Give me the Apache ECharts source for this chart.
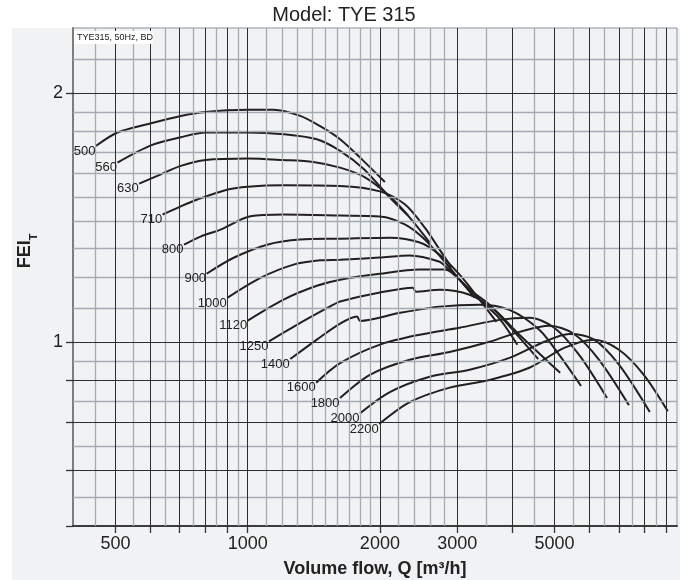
<!DOCTYPE html>
<html><head><meta charset="utf-8">
<script src="https://cdn.jsdelivr.net/npm/echarts@6/dist/echarts.min.js"></script>
<style>html,body{margin:0;padding:0;background:#fff}#c{width:680px;height:580px}</style>
</head><body><div id="c"></div>
<script>
// Speeds (curve labels)
const speeds = ['500','560','630','710','800','900','1000','1120','1250','1400','1600','1800','2000','2200'];
// Volume flow Q [m3/h] and FEI_T for each curve
const q500 = [451,505,602,704,802,1000,1145,1317,1462,1623,1820,2053];
const f500 = [1.728,1.794,1.841,1.879,1.900,1.911,1.911,1.879,1.826,1.761,1.665,1.563];
const q560 = [505,602,704,802,1000,1207,1437,1623,1840,2107,2318];
const f560 = [1.650,1.731,1.771,1.794,1.794,1.786,1.761,1.705,1.620,1.497,1.424];
const q630 = [566,634,704,802,1000,1205,1410,1623,1850,2107,2339,2597];
const f630 = [1.556,1.597,1.635,1.662,1.669,1.662,1.653,1.627,1.584,1.502,1.416,1.321];
const q710 = [640,704,768,901,1000,1205,1623,2000,2279,2531,2736,2913];
const f710 = [1.428,1.461,1.489,1.531,1.543,1.549,1.546,1.523,1.469,1.377,1.295,1.232];
const q800 = [716,781,867,1014,1207,1623,2000,2279,2531,2809,3038,3285];
const f800 = [1.313,1.343,1.369,1.421,1.428,1.424,1.420,1.389,1.332,1.252,1.191,1.133];
const q900 = [806,929,1107,1317,1623,2107,2465,2736,3038,3373,3686];
const f900 = [1.211,1.266,1.313,1.332,1.335,1.339,1.321,1.277,1.208,1.127,1.059];
const q1000 = [898,1069,1272,1462,1623,2000,2339,2736,2838,3038,3373,3744,4113];
const f1000 = [1.132,1.197,1.242,1.257,1.259,1.267,1.274,1.252,1.232,1.191,1.127,1.069,0.994];
const q1120 = [1000,1207,1437,1623,2000,2465,2809,3201,3553,4049,4588];
const f1120 = [1.063,1.127,1.171,1.191,1.211,1.225,1.225,1.158,1.111,1.030,0.955];
const q1250 = [1118,1317,1567,1623,2000,2377,2414,2736,3201,3647,4157,5148];
const f1250 = [1.003,1.056,1.111,1.121,1.149,1.165,1.152,1.158,1.142,1.095,1.022,0.919];
const q1400 = [1250,1437,1623,1774,1802,2220,2736,3373,3945,4614,5122,5744];
const f1400 = [0.955,1.008,1.054,1.075,1.062,1.086,1.105,1.111,1.095,1.036,0.966,0.886];
const q1600 = [1432,1623,2000,2465,3038,3744,4380,4989,5686,6581];
const f1600 = [0.894,0.944,0.994,1.022,1.042,1.065,1.071,1.042,0.966,0.857];
const q1800 = [1623,1898,2339,2883,3553,4157,4862,5538,6312,7383];
const f1800 = [0.857,0.914,0.953,0.974,1.002,1.030,1.048,1.024,0.953,0.840];
const q2000 = [1802,2107,2597,3201,3945,4737,5397,6150,7007,8236];
const f2000 = [0.821,0.871,0.909,0.927,0.958,1.002,1.024,1.008,0.940,0.824];
const q2200 = [1993,2339,2883,3553,4380,5257,6150,7007,7981,9051];
const f2200 = [0.797,0.847,0.882,0.901,0.932,0.985,1.008,0.980,0.914,0.826];

// Axis ticks, labels and grid lines
const xTicks = [500,600,700,800,900,1000,2000,3000,4000,5000,6000,7000,8000,9000];
const xLabels = [500,1000,2000,3000,5000];
const xMinor = [450,550,650,750,850,950,1100,1200,1300,1400,1500,1600,1700,1800,1900,2200,2400,2600,2800,3500,4500,5500,6500,7500,8500];
const yTicks = [0.6,0.7,0.8,0.9,1,2];
const yLabels = [1,2];
const yMajor = [0.7,0.8,0.9,1,2];
const yMinor = [0.65,0.75,0.85,0.95,1.1,1.2,1.3,1.4,1.5,1.6,1.7,1.8,1.9,2.2];

const curvesQ = [q500,q560,q630,q710,q800,q900,q1000,q1120,q1250,q1400,q1600,q1800,q2000,q2200];
const curvesF = [f500,f560,f630,f710,f800,f900,f1000,f1120,f1250,f1400,f1600,f1800,f2000,f2200];

const FONT = 'Liberation Sans, Arial, Helvetica, sans-serif';
const chart = echarts.init(document.getElementById('c'), null, {renderer:'canvas'});

const DARK = '#2e2e2e', LIGHT = '#a4abb3';
const gridLines = [].concat(
  xMinor.map(v => ({xAxis: v, lineStyle:{color:LIGHT, width:1.3}})),
  yMinor.map(v => ({yAxis: v, lineStyle:{color:LIGHT, width:1.3}})),
  xTicks.map(v => ({xAxis: v, lineStyle:{color:DARK, width:1}})),
  yMajor.map(v => ({yAxis: v, lineStyle:{color:DARK, width:1}}))
);

const series = [{
  type:'line', data:[], z:1, silent:true,
  markLine:{silent:true, symbol:['none','none'], label:{show:false}, animation:false,
    emphasis:{disabled:true}, lineStyle:{type:'solid'}, data: gridLines}
}];
curvesQ.forEach((qs, i) => {
  const fs = curvesF[i];
  series.push({type:'line', name:speeds[i], data: qs.map((q, j) => [q, fs[j]]), z:3, smooth:0.3, showSymbol:false,
    lineStyle:{color:'#231f20', width:2}, emphasis:{disabled:true}, animation:false,
    markPoint:{silent:true, animation:false, symbol:'circle', symbolSize:1, itemStyle:{color:'rgba(0,0,0,0)'},
      data:[{coord:[qs[0], fs[0]], label:{show:true, formatter: speeds[i], position:'left', distance:0, offset:[0,5],
        fontSize:13, color:'#222', fontFamily:FONT}}]}});
});

const plainNum = v => String(Math.round(v));

chart.setOption({
  animation:false,
  backgroundColor:'#ffffff',
  graphic:[
    {type:'rect', z:-100, silent:true, shape:{x:12, y:28, width:668, height:552}, style:{fill:'#f1f2f4'}},
    {type:'text', x:344, y:15, style:{text:'Model: TYE 315', font:'20px '+FONT, fill:'#222', textAlign:'center', textVerticalAlign:'middle'}},
    {type:'rect', z:50, x:74, y:31, shape:{width:79, height:13}, style:{fill:'#ffffff'}},
    {type:'text', z:51, x:77, y:38, style:{text:'TYE315, 50Hz, BD', font:'9px '+FONT, fill:'#222', textVerticalAlign:'middle'}},
    {type:'text', x:375, y:569, style:{text:'Volume flow, Q [m³/h]', font:'bold 18px '+FONT, fill:'#222', textAlign:'center', textVerticalAlign:'middle'}},
    {type:'text', x:25, y:251, rotation:Math.PI/2, style:{
      text:'{a|FEI}{b|T}', textAlign:'center', textVerticalAlign:'middle',
      rich:{a:{fill:'#222', fontSize:18, fontWeight:'bold', fontFamily:FONT, lineHeight:20},
            b:{fontSize:11, fontWeight:'bold', fontFamily:FONT, fill:'#222', verticalAlign:'bottom', lineHeight:28}}}}
  ],
  grid:{left:73, right:3, top:28, bottom:54, show:true, backgroundColor:'#f1f2f4', borderColor:'#8d9298', borderWidth:1},
  xAxis:{type:'log', logBase:10, min:400, max:9500,
    axisLine:{show:true, lineStyle:{color:'#3c3c3c', width:2}},
    axisTick:{show:true, customValues:xTicks, length:7, lineStyle:{color:'#333', width:1.3}},
    axisLabel:{show:true, customValues:xLabels, formatter:plainNum, fontSize:18, color:'#222', margin:9, fontFamily:FONT},
    splitLine:{show:false}, minorTick:{show:false}, minorSplitLine:{show:false}},
  yAxis:{type:'log', logBase:10, min:0.6, max:2.4,
    axisLine:{show:true, lineStyle:{color:'#7d7d7d', width:2}},
    axisTick:{show:true, customValues:yTicks, length:7, lineStyle:{color:'#333', width:1.3}},
    axisLabel:{show:true, customValues:yLabels, fontSize:18, color:'#222', margin:10, fontFamily:FONT},
    splitLine:{show:false}},
  series
});
</script></body></html>
